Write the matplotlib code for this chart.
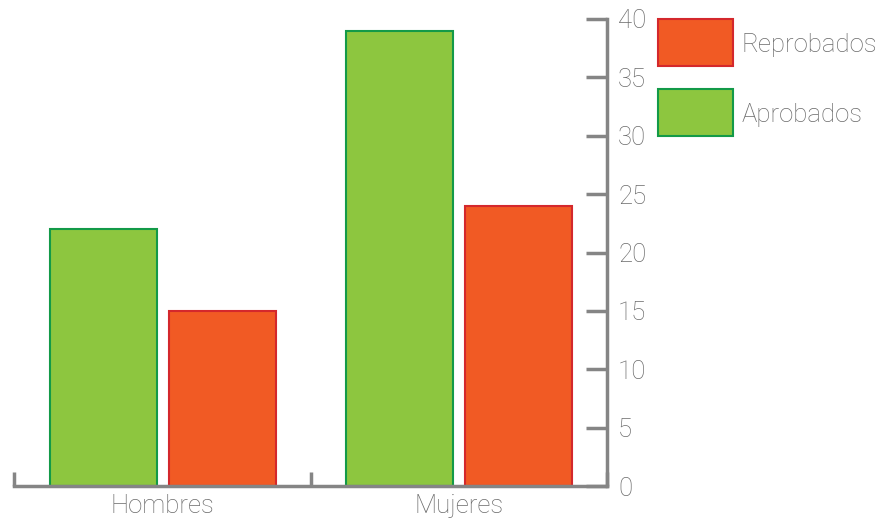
import matplotlib
matplotlib.use("Agg")
import matplotlib.pyplot as plt
import numpy as np
from matplotlib.patches import Rectangle

Categorias = ["Hombres", "Mujeres"]
Aprobados = [22, 39]
Reprobados = [15, 24]
Yticks = [0, 5, 10, 15, 20, 25, 30, 35, 40]
Leyenda = ["Reprobados", "Aprobados"]

plt.rcParams['font.family'] = ['Roboto', 'DejaVu Sans']
plt.rcParams['font.weight'] = 'light'
GRIS = "#858585"
TEXTO = "#6a6a6a"
VERDE, VERDE_BORDE = "#8dc63f", "#139a48"
NARANJA, NARANJA_BORDE = "#f15a24", "#d4282c"

W, H = 883, 520
fig = plt.figure(figsize=(W / 100, H / 100), dpi=100)
ax = fig.add_axes([14 / W, 34 / H, 593 / W, 467 / H])

x = np.arange(len(Categorias))
ancho = 0.36
ax.bar(x + 0.301, Aprobados, ancho, color=VERDE, edgecolor=VERDE_BORDE, linewidth=1.5)
ax.bar(x + 0.702, Reprobados, ancho, color=NARANJA, edgecolor=NARANJA_BORDE, linewidth=1.5)

ax.set_xlim(0, len(Categorias))
ax.set_ylim(0, 40)

for s in ["top", "left"]:
    ax.spines[s].set_visible(False)
for s in ["bottom", "right"]:
    ax.spines[s].set_color(GRIS)
    ax.spines[s].set_linewidth(2.5)

ax.yaxis.tick_right()
ax.set_yticks(Yticks)
ax.tick_params(axis="y", direction="in", length=15, width=2.5, color=GRIS,
               labelcolor=TEXTO, labelsize=18.5, pad=8)

ax.set_xticks(np.arange(len(Categorias) + 1))
ax.set_xticklabels([])
ax.tick_params(axis="x", which="major", direction="in", length=10, width=2.5, color=GRIS)
ax.set_xticks(x + 0.5, minor=True)
ax.set_xticklabels(Categorias, minor=True)
ax.tick_params(axis="x", which="minor", length=0, labelcolor=TEXTO, labelsize=18.5, pad=6)

# leyenda a mano
colores = [(NARANJA, NARANJA_BORDE), (VERDE, VERDE_BORDE)]
for i, (nombre, (c, b)) in enumerate(zip(Leyenda, colores)):
    top = 19 + i * 70
    fig.add_artist(Rectangle((658 / W, 1 - (top + 47) / H), 75 / W, 47 / H,
                             transform=fig.transFigure, facecolor=c, edgecolor=b, linewidth=1.5))
    fig.text(742 / W, 1 - (top + 26) / H, nombre, color=TEXTO, fontsize=18.5,
             ha="left", va="center")

fig.savefig("out.png", dpi=100)
